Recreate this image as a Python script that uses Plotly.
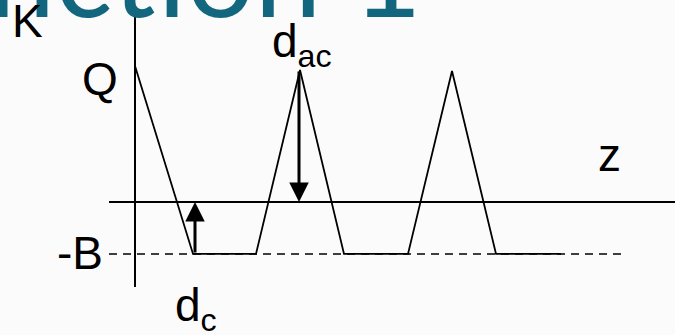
import plotly.graph_objects as go

# ---- data (z in horizontal units from the K axis, K in units of Q) ----
profile_z = [0, 58, 121, 165, 209, 273, 317, 361, 426]
profile_K = [1.0, -0.382, -0.382, 0.97, -0.382, -0.382, 0.963, -0.382, -0.382]
Q = 1.0
B = 0.382
axis_K_span = [-0.625, 1.368]      # vertical K axis extent
axis_z_span = [-26, 540]           # horizontal z axis extent
dashed_z_span = [-26, 486]         # -B reference line extent
dc_z = 60                          # position of d_c arrow
dac_z = 164                        # position of d_ac arrow
dac_top = 0.97

title_text = "Function 1"
labels = {"K": "K", "Q": "Q", "z": "z", "B": "-B", "dc": "d<sub>c</sub>", "dac": "d<sub>ac</sub>"}

W, H = 675, 335
FONT = "Liberation Sans, Arial, sans-serif"

fig = go.Figure()

# axes
fig.add_trace(go.Scatter(x=[0, 0], y=axis_K_span, mode="lines",
                         line=dict(color="black", width=2), hoverinfo="skip"))
fig.add_trace(go.Scatter(x=axis_z_span, y=[0, 0], mode="lines",
                         line=dict(color="black", width=2), hoverinfo="skip"))
# -B dashed line
fig.add_trace(go.Scatter(x=dashed_z_span, y=[-B, -B], mode="lines",
                         line=dict(color="black", width=1.6, dash="8px,6px"), hoverinfo="skip"))
# profile
fig.add_trace(go.Scatter(x=profile_z, y=profile_K, mode="lines",
                         line=dict(color="black", width=1.8), hoverinfo="skip"))

def px2paper(px, py):
    return px / W, 1 - py / H

anns = []
# arrows
for az, top, bottom in [(dc_z, 0, -B), (dac_z, 0, dac_top)]:
    anns.append(dict(x=az, y=top, ax=az, ay=bottom, xref="x", yref="y", axref="x", ayref="y",
                     showarrow=True, arrowhead=2, arrowsize=1.3, arrowwidth=3,
                     arrowcolor="black", text="", standoff=0))

def label(text, px, py, size=46, xanchor="center", yanchor="middle", color="black", family=FONT):
    x, y = px2paper(px, py)
    anns.append(dict(x=x, y=y, xref="paper", yref="paper", text=text, showarrow=False,
                     xanchor=xanchor, yanchor=yanchor,
                     font=dict(size=size, color=color, family=family)))

label(title_text, 424, 45, size=120, xanchor="right", yanchor="bottom",
      color="#12677F", family="Lato, sans-serif")
label(labels["K"], 27, 21)
label(labels["Q"], 100, 79)
label(labels["z"], 609, 155)
label(labels["B"], 80, 253)
label(labels["dac"], 302, 45)
label(labels["dc"], 196, 308)

fig.update_layout(
    width=W, height=H,
    margin=dict(l=0, r=0, t=0, b=0),
    paper_bgcolor="#fbfbfb", plot_bgcolor="#fbfbfb",
    showlegend=False,
    xaxis=dict(range=[-135, 540], visible=False, fixedrange=True),
    yaxis=dict(range=[-0.978, 1.485], visible=False, fixedrange=True),
    annotations=anns,
)

fig.write_html("out.html", config={"displayModeBar": False},
               post_script="document.body.style.margin='0';document.body.style.background='#fbfbfb';")
